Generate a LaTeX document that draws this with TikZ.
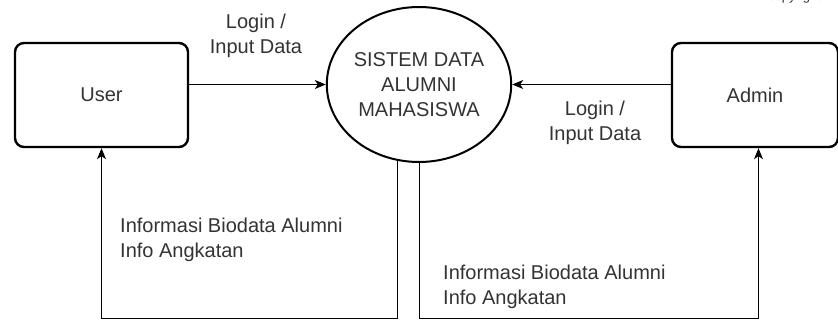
\documentclass[tikz,border=0pt]{standalone}
\usepackage{fontspec}
\setmainfont{Liberation Sans}
\usetikzlibrary{arrows.meta,shapes.geometric}
\definecolor{txt}{HTML}{333333}
\begin{document}
\begin{tikzpicture}[x=1pt,y=-1pt,
  ent/.style={draw=black,line width=2.4pt,rounded corners=9pt,inner sep=0pt,
    text=txt,font=\fontsize{20}{25}\selectfont},
  proc/.style={draw=black,line width=2pt,ellipse,inner sep=0pt,
    minimum width=176pt,minimum height=155pt,align=center,text=txt,
    font=\fontsize{20}{25}\selectfont},
  lbl/.style={inner sep=0pt,text=txt,font=\fontsize{20}{25}\selectfont},
  flow/.style={draw=black,line width=1.3pt,-{Stealth[length=11pt,width=9pt,inset=3pt]}}]
\useasboundingbox (0,0) rectangle (838,320);
% copyright fragment at top edge
\node[inner sep=0pt,anchor=base west,text=txt,font=\fontsize{13}{15}\selectfont] (copy) at (768,1) {copyright};
% entities
\node[ent,minimum width=173pt,minimum height=104pt] (user) at (101.5,95) {User};
\node[ent,minimum width=166pt,minimum height=104pt] (admin) at (755,95) {Admin};
% process
\node[proc] (circ) at (419,84.5) {SISTEM DATA\\ALUMNI\\MAHASISWA};
% labels
\node[lbl,anchor=north,align=center] (l1) at (256,13.5) {Login /\\Input Data};
\node[lbl,anchor=north,align=center] (l2) at (595,100.5) {Login /\\Input Data};
\node[lbl,anchor=north west,align=left] (l3) at (120,217.5) {Informasi Biodata Alumni\\Info Angkatan};
\node[lbl,anchor=north west,align=left] (l4) at (443,264.5) {Informasi Biodata Alumni\\Info Angkatan};
% corner points
\coordinate (c1) at (397.5,318.5);
\coordinate (c2) at (101.5,318.5);
\coordinate (c3) at (419.5,318.5);
\coordinate (c4) at (758.5,318.5);
\coordinate (s1) at (397.5,150);
\coordinate (s2) at (419.5,150);
% flows
\draw[flow] (user.east |- circ.west) -- (circ.west);
\draw[flow] (admin.west |- circ.east) -- (circ.east);
\draw[flow] (circ.253.6 -| s1) -- (c1) -- (c2) -- (user.south);
\draw[flow] (circ.south -| s2) -- (c3) -- (c4) -- (c4 |- admin.south);
\end{tikzpicture}
\end{document}
